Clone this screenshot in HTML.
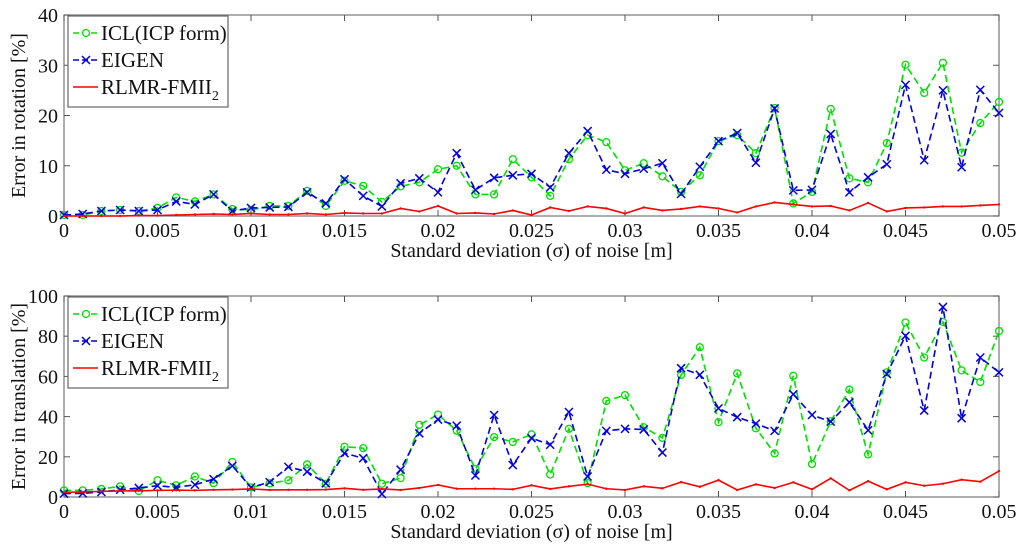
<!DOCTYPE html>
<html><head><meta charset="utf-8"><style>
body{margin:0;background:#fff}
svg, svg text{font-family:"Liberation Serif","DejaVu Serif",serif;fill:#111}
</style></head><body>
<svg id="chart" width="1024" height="550" viewBox="0 0 1024 550" xmlns="http://www.w3.org/2000/svg" font-family="Liberation Serif, DejaVu Serif, serif"></svg>
<script>
const xTicks=[0,0.005,0.01,0.015,0.02,0.025,0.03,0.035,0.04,0.045,0.05];
const xTickLabels=["0","0.005","0.01","0.015","0.02","0.025","0.03","0.035","0.04","0.045","0.05"];
const sigma=[0,.001,.002,.003,.004,.005,.006,.007,.008,.009,.01,.011,.012,.013,.014,.015,.016,.017,.018,.019,.02,.021,.022,.023,.024,.025,.026,.027,.028,.029,.03,.031,.032,.033,.034,.035,.036,.037,.038,.039,.04,.041,.042,.043,.044,.045,.046,.047,.048,.049,.05];
const rotTicks=[0,10,20,30,40];
const rotICL=[0.2,0.2,1,1.2,1,1.6,3.7,2.9,4.3,1.4,1.2,2,2,5,2,7,6,2.8,5.9,6.7,9.3,10,4.3,4.3,11.3,7.7,4,11.3,16.1,14.7,9.1,10.5,7.9,4.8,8.1,14.9,16.1,12.5,21.5,2.5,4.8,21.3,7.5,6.7,14.5,30.1,24.5,30.5,12.6,18.5,22.7];
const rotEIGEN=[0.2,0.4,1,1.2,1,1.2,2.9,2.3,4.3,1,1.6,1.7,1.8,4.7,2.5,7.3,4,1.9,6.5,7.5,4.7,12.5,5.2,7.6,8.1,8.4,5.7,12.5,16.9,9.2,8.4,9.4,10.5,4.4,9.8,14.9,16.5,10.6,21.4,5.1,5.2,16.3,4.7,7.7,10.3,26.1,11.1,25,9.7,25.1,20.5];
const rotRLMR=[0,0,0,0,0.1,0.1,0.2,0.3,0.4,0.3,0.5,0.3,0.3,0.5,0.3,0.6,0.5,0.5,1.5,0.9,2,0.5,0.6,0.4,1.1,0.2,1.7,1,1.9,1.5,0.5,1.7,1.1,1.4,1.9,1.5,0.7,1.9,2.7,2.3,1.9,2,1.1,2.6,0.9,1.6,1.7,1.9,1.9,2.1,2.3];
const trTicks=[0,20,40,60,80,100];
const trICL=[3.3,3.3,4,5.3,3,8.3,5.8,10.2,6.9,17.4,4.8,6.8,8.3,16.2,6.6,25,24.3,6.6,9.4,35.9,41,33,14,29.8,27.4,31.2,11.2,33.9,6.9,47.8,50.7,34.7,29.4,60.7,74.5,37.2,61.5,34.2,21.7,60.3,16.4,37.7,53.4,21.2,62,86.8,69.4,87.1,63,57.2,82.6];
const trEIGEN=[1.7,1.8,2.5,3.6,4.5,5.6,4.8,6.1,8.9,15.5,4.8,7.4,15,12.6,6.8,21.8,19.3,1.5,13.6,31.7,38.5,35.5,10.7,40.8,15.9,29.3,26,42.3,10.2,32.9,33.9,33.6,22.1,64.1,60.8,44.1,39.7,36.5,32.9,51.1,40.8,37.5,47.1,33.2,61.2,80.2,43,94.5,39.2,69.4,62];
const trRLMR=[2.3,2.5,2.8,3,3.1,3.3,3.4,3.3,3.6,3.7,4,3.5,3.6,3.6,3.7,4.3,3.6,4,3.5,4.5,6,4.1,4.1,4.1,3.8,5.8,4,5.3,6.4,4.1,3.5,5.3,4.3,7.4,5.1,8.4,3.5,6.3,4.5,7.3,3.8,9.3,3.3,7.9,3.8,7.3,5.6,6.6,8.6,7.6,12.9];

const svg=document.getElementById('chart');
const NS='http://www.w3.org/2000/svg';
const FF='Liberation Serif, DejaVu Serif, serif';
function mk(tag,attrs,parent){const e=document.createElementNS(NS,tag);for(const k in attrs)e.setAttribute(k,attrs[k]);if(tag==='text')e.setAttribute('font-family',FF);(parent||svg).appendChild(e);return e;}
const X0=64,X1=999;
function xs(v){return X0+(v/0.05)*(X1-X0);}

function panel(name,top,bot,ymax,yTicks,ylabel,icl,eig,rl){
  const g=mk('g',{});
  
  
  const ys=v=>bot-(v/ymax)*(bot-top);
  const frame=mk('rect',{x:X0,y:top,width:X1-X0,height:bot-top,fill:'#fff',stroke:'#777','stroke-width':1.2},g);
  
  
  xTicks.forEach((t,i)=>{
    const x=xs(t);
    mk('line',{x1:x,y1:bot,x2:x,y2:bot-6,stroke:'#555'},g);
    mk('line',{x1:x,y1:top,x2:x,y2:top+6,stroke:'#555'},g);
    const tx=mk('text',{x:x,y:bot+21,'font-size':20,'text-anchor':'middle'},g);
    tx.textContent=xTickLabels[i];
    
    
  });
  yTicks.forEach(t=>{
    const y=ys(t);
    mk('line',{x1:X0,y1:y,x2:X0+6,y2:y,stroke:'#555'},g);
    mk('line',{x1:X1,y1:y,x2:X1-6,y2:y,stroke:'#555'},g);
    const tx=mk('text',{x:58,y:y+7,'font-size':20,'text-anchor':'end'},g);
    tx.textContent=String(t);
    
    
  });
  const xl=mk('text',{x:(X0+X1)/2,y:bot+41,'font-size':20,'text-anchor':'middle'},g);
  xl.textContent='Standard deviation (σ) of noise [m]';
  
  
  const yl=mk('text',{x:0,y:0,'font-size':20,'text-anchor':'middle',transform:`translate(25,${(top+bot)/2}) rotate(-90)`},g);
  yl.textContent=ylabel;
  
  
  function series(arr,color,dash,marker,sname){
    const pts=arr.map((v,i)=>xs(sigma[i])+','+ys(v)).join(' ');
    const pl=mk('polyline',{points:pts,fill:'none',stroke:color,'stroke-width':1.6,'stroke-dasharray':dash},g);
    
    
    arr.forEach((v,i)=>{
      const x=xs(sigma[i]),y=ys(v);
      if(marker==='o')mk('circle',{cx:x,cy:y,r:3.5,fill:'none',stroke:color,'stroke-width':1.3},g);
      else if(marker==='x'){mk('path',{d:`M${x-4},${y-4}L${x+4},${y+4}M${x-4},${y+4}L${x+4},${y-4}`,stroke:color,'stroke-width':1.5},g);}
      else mk('circle',{cx:x,cy:y,r:1.2,fill:color},g);
    });
  }
  series(icl,'#00e000','7,4','o','icl');
  series(eig,'#0000e0','7,4','x','eigen');
  series(rl,'#ff0000','none','.','rlmr');
  const L=mk('g',{},g);
  
  
  const ly=top+1;
  mk('rect',{x:68,y:ly,width:160,height:91,fill:'#fff',stroke:'#666','stroke-width':1.2},L);
  const items=[['ICL(ICP form)','#00e000','7,4','o'],['EIGEN','#0000e0','7,4','x'],['RLMR-FMII','#ff0000','none','.']];
  items.forEach((it,i)=>{
    const y=ly+17+i*27;
    mk('line',{x1:73,y1:y,x2:98,y2:y,stroke:it[1],'stroke-width':1.6,'stroke-dasharray':it[2]==='none'?'':'6,3'},L);
    if(it[3]==='o')mk('circle',{cx:86,cy:y,r:3.5,fill:'#fff',stroke:it[1],'stroke-width':1.3},L);
    else if(it[3]==='x')mk('path',{d:`M82,${y-4}L90,${y+4}M82,${y+4}L90,${y-4}`,stroke:it[1],'stroke-width':1.5},L);
    const t=mk('text',{x:101,y:y+7,'font-size':21},L);
    t.textContent=it[0];
    if(i===2){const s=document.createElementNS(NS,'tspan');s.setAttribute('font-size','14');s.setAttribute('dy','6');s.textContent='2';t.appendChild(s);}
    
    
  });
}
panel('rotation',15,216,40,rotTicks,'Error in rotation [%]',rotICL,rotEIGEN,rotRLMR);
panel('translation',296,497,100,trTicks,'Error in translation [%]',trICL,trEIGEN,trRLMR);
</script>
</body></html>
